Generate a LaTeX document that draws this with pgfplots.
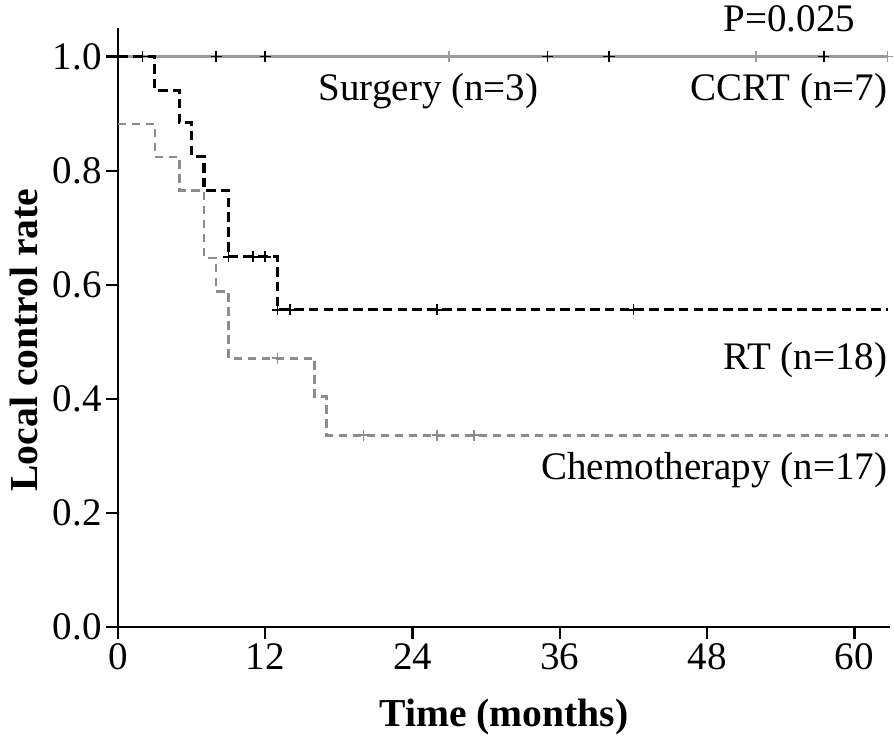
\documentclass[border=0pt]{standalone}
\usepackage{fontspec}
\setmainfont{Liberation Serif}
\usepackage{pgfplots}
\pgfplotsset{compat=1.18}
\definecolor{cgray}{HTML}{8C8C8C}
\definecolor{lgray}{HTML}{9A9A9A}
\begin{document}
\begin{tikzpicture}
\begin{axis}[
  scale only axis,
  width=386pt, height=299.5pt,
  at={(0,0)}, anchor=origin,
  xmin=0, xmax=62.9, ymin=0, ymax=1.05,
  axis x line*=bottom, axis y line*=left,
  axis line style={line width=1.4pt, black},
  tick align=outside,
  major tick length=6pt,
  tick style={line width=1.1pt, black},
  xtick={0,12,24,36,48,60},
  ytick={0,0.2,0.4,0.6,0.8,1.0},
  yticklabel style={/pgf/number format/.cd, fixed, fixed zerofill, precision=1},
  /pgf/number format/assume math mode=true,
  ticklabel style={font=\fontsize{19.5}{23}\selectfont, inner sep=2pt},
  xlabel={Time (months)},
  ylabel={Local control rate},
  label style={font=\fontsize{19.8}{23}\selectfont\bfseries},
  xlabel style={at={(axis description cs:0.5,-0.15)}, anchor=center},
  ylabel style={at={(axis description cs:-0.122,0.479)}, anchor=center},
  clip=false,
]
% Surgery / CCRT line at 1.0
\addplot[lgray, line width=1.4pt] coordinates {(0,1) (62.7,1)};
% RT
\addplot[black, line width=1.6pt, dash pattern=on 4.8pt off 2.6pt, const plot] coordinates {
(0,1) (3,0.941) (5,0.884) (6,0.825) (7,0.765) (9,0.649) (13,0.556) (62.7,0.556)};
% Chemotherapy
\addplot[cgray, line width=1.25pt, dash pattern=on 4.2pt off 2.8pt, const plot] coordinates {
(0,0.882) (3,0.824) (5,0.765) (7,0.647) (8,0.588) (9,0.471) (16,0.404) (17,0.336) (62.7,0.336)};
% censor marks
\addplot[only marks, mark=+, mark size=2.8pt, black, mark options={line width=0.9pt}] coordinates {
(2,1) (8,1) (12,1) (35,1) (40,1) (57.5,1)};
\addplot[only marks, mark=+, mark size=2.8pt, lgray, mark options={line width=0.9pt}] coordinates {
(27,1) (52,1) (62.7,1)};
\addplot[only marks, mark=+, mark size=2.8pt, black, mark options={line width=0.9pt}] coordinates {
(9,0.649) (11,0.649) (12,0.649) (13,0.556) (14,0.556) (26,0.556) (42,0.556)};
\addplot[only marks, mark=+, mark size=2.8pt, cgray, mark options={line width=0.9pt}] coordinates {
(13,0.471) (20,0.336) (26,0.336) (29,0.336)};
% annotations
\node[font=\fontsize{19.5}{23}\selectfont, anchor=center] at (axis cs:54.7,1.066) {P=0.025};
\node[font=\fontsize{19.5}{23}\selectfont, anchor=center] at (axis cs:25.3,0.939) {Surgery (n=3)};
\node[font=\fontsize{19.5}{23}\selectfont, anchor=east, inner sep=0pt] at (axis cs:62.7,0.939) {CCRT (n=7)};
\node[font=\fontsize{19.5}{23}\selectfont, anchor=east, inner sep=0pt] at (axis cs:62.7,0.468) {RT (n=18)};
\node[font=\fontsize{19.5}{23}\selectfont, anchor=east, inner sep=0pt] at (axis cs:62.7,0.275) {Chemotherapy (n=17)};
\end{axis}
\pgfresetboundingbox
\path (-59pt,-55.5pt) rectangle (388pt,313.5pt);
\end{tikzpicture}
\end{document}
